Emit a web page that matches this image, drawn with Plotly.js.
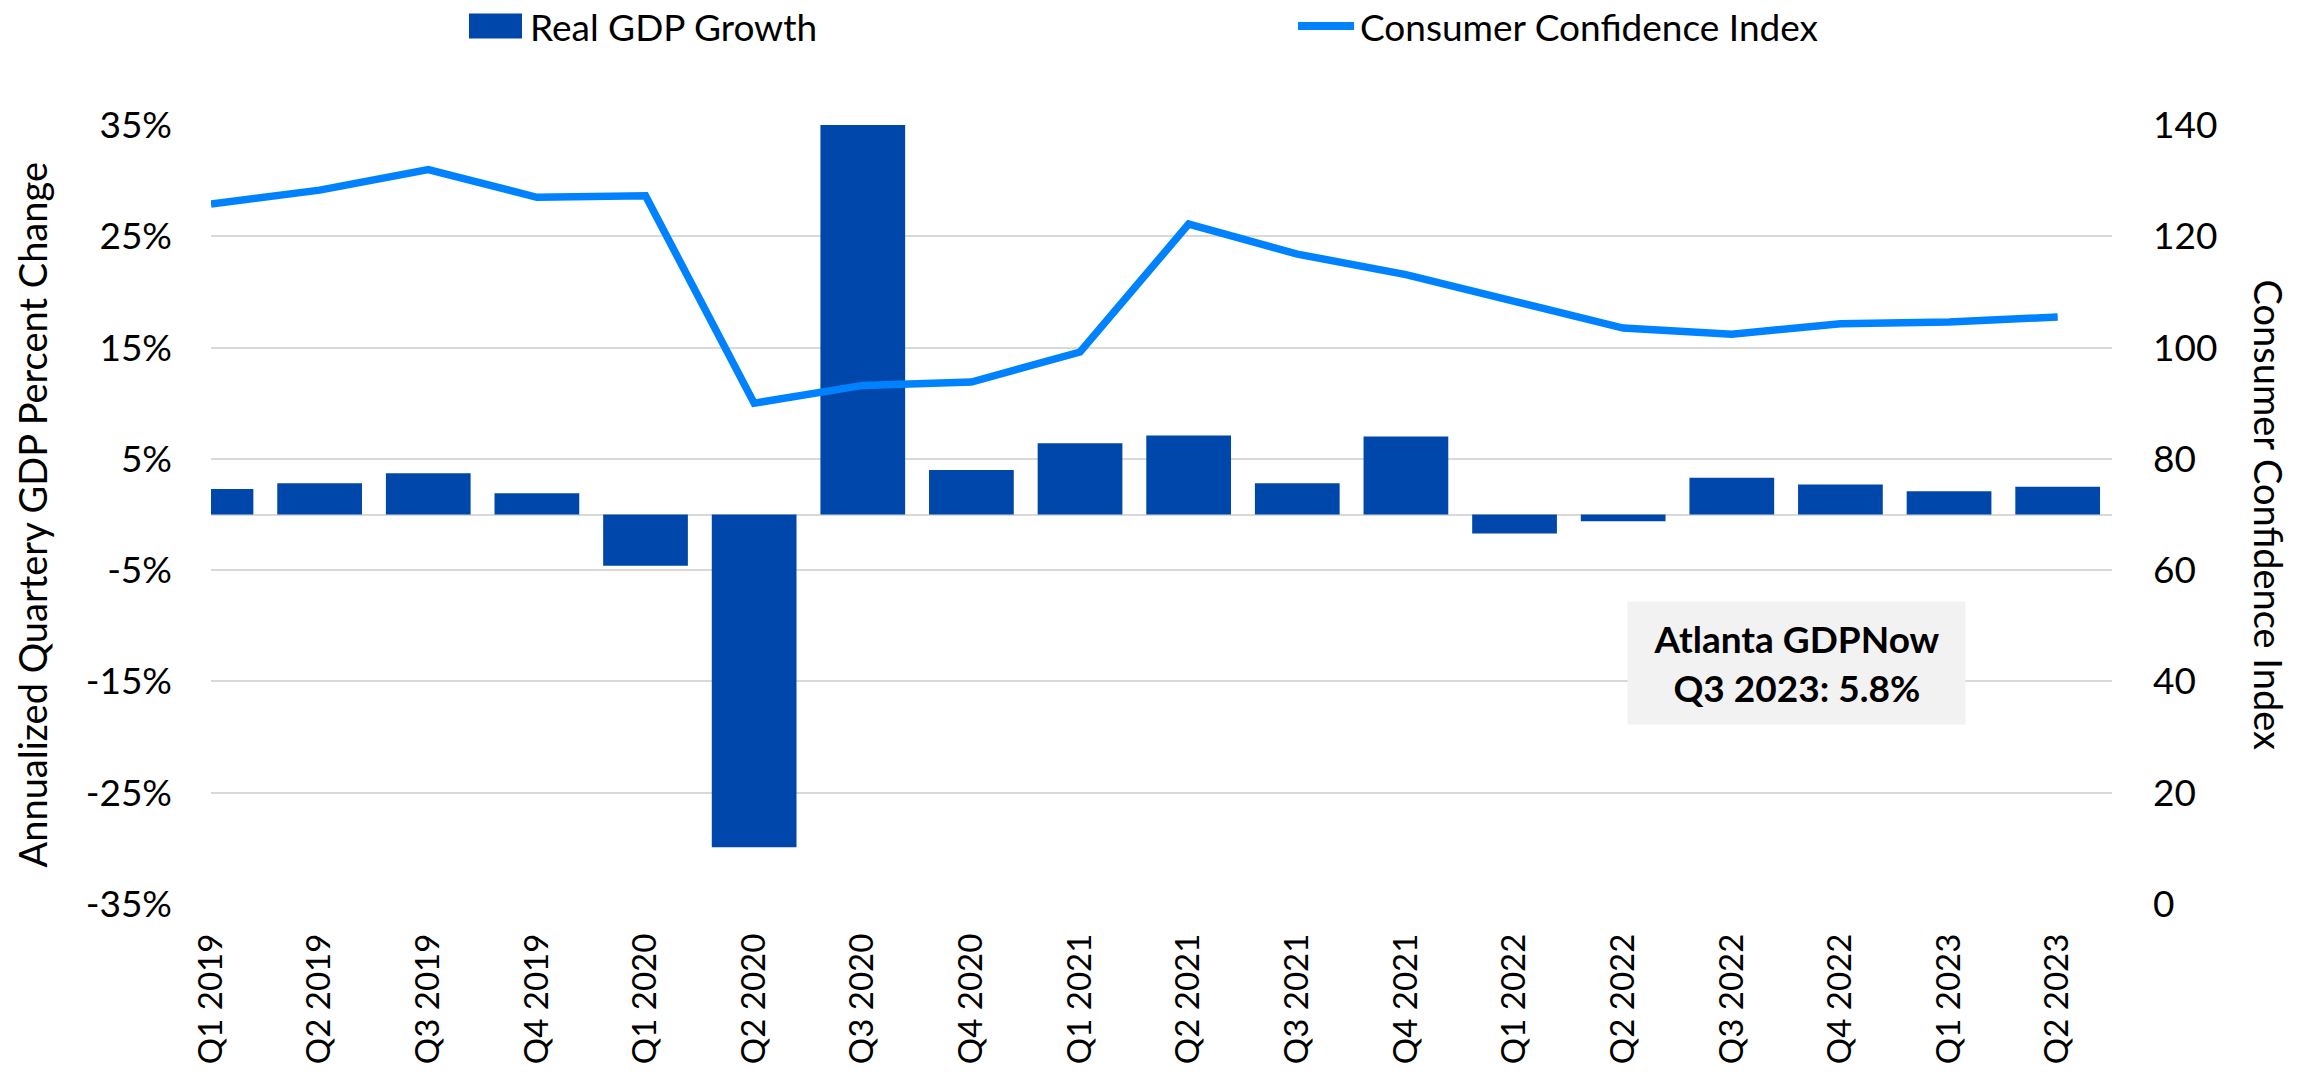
<!DOCTYPE html>
<html>
<head>
<meta charset="utf-8">
<script src="https://cdn.plot.ly/plotly-3.0.1.min.js"></script>
<style>html,body{margin:0;padding:0;background:#fff;}#chart{width:2313px;height:1078px;}</style>
</head>
<body>
<div id="chart"></div>
<script>
const quarters = ["Q1 2019","Q2 2019","Q3 2019","Q4 2019","Q1 2020","Q2 2020","Q3 2020","Q4 2020","Q1 2021","Q2 2021","Q3 2021","Q4 2021","Q1 2022","Q2 2022","Q3 2022","Q4 2022","Q1 2023","Q2 2023"];
const gdpGrowth = [2.3, 2.8, 3.7, 1.9, -4.6, -29.9, 35.3, 4.0, 6.4, 7.1, 2.8, 7.0, -1.7, -0.6, 3.3, 2.7, 2.1, 2.5];
const consumerConfidence = [125.8, 128.3, 132.0, 127.0, 127.3, 90.0, 93.2, 93.8, 99.2, 122.2, 116.8, 113.1, 108.3, 103.5, 102.4, 104.3, 104.6, 105.5];
const leftTickVals = [-35, -25, -15, -5, 5, 15, 25, 35];
const leftTickText = ["-35%", "-25%", "-15%", "-5%", "5%", "15%", "25%", "35%"];
const rightTickVals = [0, 20, 40, 60, 80, 100, 120, 140];
const seriesNames = ["Real GDP Growth", "Consumer Confidence Index"];
const axisTitles = ["Annualized Quartery GDP Percent Change", "Consumer Confidence Index"];
const noteText = "Atlanta GDPNow<br>Q3 2023: 5.8%";

const font = "Lato, 'Open Sans', sans-serif";
const barColor = "#0047AB";
const lineColor = "#0082FF";

const traces = [
  {type: "bar", x: quarters, y: gdpGrowth, name: seriesNames[0], marker: {color: barColor}, yaxis: "y"},
  {type: "scatter", mode: "lines", x: quarters, y: consumerConfidence, name: seriesNames[1], line: {color: lineColor, width: 7.5}, yaxis: "y2"}
];

const layout = {
  width: 2313, height: 1078, autosize: false,
  paper_bgcolor: "#ffffff", plot_bgcolor: "#ffffff",
  margin: {l: 211, r: 201, t: 125, b: 174, pad: 0},
  showlegend: false,
  bargap: 0.22,
  xaxis: {
    type: "category", range: [0, 17.5], tickangle: -90,
    tickfont: {family: font, size: 33, color: "#000"},
    showgrid: false, showline: false, ticks: "", ticklabelstandoff: 22, fixedrange: true
  },
  yaxis: {
    range: [-35, 35], tickvals: leftTickVals, ticktext: leftTickText,
    tickfont: {family: font, size: 37, color: "#000"},
    showgrid: true, gridcolor: "#d9d9d9", gridwidth: 2,
    zeroline: true, zerolinecolor: "#d9d9d9", zerolinewidth: 2,
    showline: false, ticks: "", ticklabelstandoff: 38
  },
  yaxis2: {
    overlaying: "y", side: "right", range: [0, 140], tickvals: rightTickVals,
    tickfont: {family: font, size: 37, color: "#000"},
    showgrid: false, zeroline: false, showline: false, ticks: "", ticklabelstandoff: 40
  },
  shapes: [
    {type: "rect", xref: "paper", yref: "paper", x0: 0.1357, x1: 0.1636, y0: 1.111, y1: 1.143, fillcolor: barColor, line: {width: 0}},
    {type: "line", xref: "paper", yref: "paper", x0: 0.5718, x1: 0.6013, y0: 1.127, y1: 1.127, line: {color: lineColor, width: 8}}
  ],
  annotations: [
    {xref: "paper", yref: "paper", x: 0.1668, y: 1.127, xanchor: "left", yanchor: "middle", showarrow: false, text: seriesNames[0], font: {family: font, size: 37, color: "#000"}},
    {xref: "paper", yref: "paper", x: 0.6034, y: 1.127, xanchor: "left", yanchor: "middle", showarrow: false, text: seriesNames[1], font: {family: font, size: 37, color: "#000"}},
    {xref: "paper", yref: "paper", x: -0.0942, y: 0.5, xanchor: "center", yanchor: "middle", showarrow: false, textangle: -90, text: axisTitles[0], font: {family: font, size: 38, color: "#000"}},
    {xref: "paper", yref: "paper", x: 1.0831, y: 0.5, xanchor: "center", yanchor: "middle", showarrow: false, textangle: 90, text: axisTitles[1], font: {family: font, size: 38, color: "#000"}},
    {xref: "paper", yref: "paper", x: 0.8338, y: 0.3089, xanchor: "center", yanchor: "middle", showarrow: false, text: "<b>" + noteText + "</b>", align: "center", bgcolor: "#f2f2f2", width: 337, height: 122, borderpad: 0, font: {family: font, size: 37, color: "#000"}}
  ]
};

Plotly.newPlot("chart", traces, layout, {displayModeBar: false, staticPlot: true});
</script>
</body>
</html>
